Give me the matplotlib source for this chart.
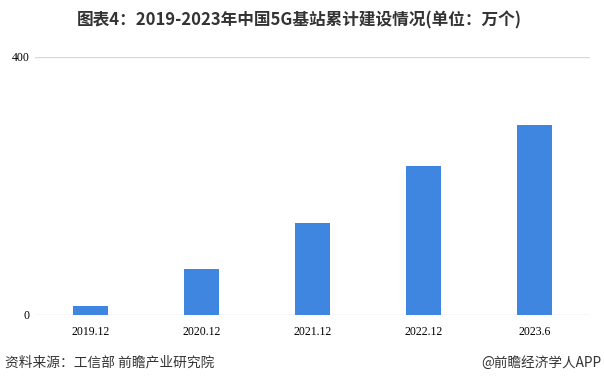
import matplotlib.pyplot as plt

plt.rcParams['font.family'] = ['Noto Sans CJK SC', 'DejaVu Sans']

periods = ['2019.12', '2020.12', '2021.12', '2022.12', '2023.6']
stations = [13, 71.8, 142.5, 231.2, 293.7]
y_ticks = [0, 400]

fig = plt.figure(figsize=(6.04, 3.84), dpi=100)
ax = fig.add_axes([0.058, 0.18, 0.919, 0.672])

x = range(len(periods))
ax.bar(x, stations, width=0.31, color='#3f86e0', zorder=3)

ax.set_xlim(-0.5, len(periods) - 0.5)
ax.set_ylim(0, 400)
ax.set_yticks(y_ticks)
ax.set_yticklabels([str(v) for v in y_ticks], family='Liberation Serif', fontsize=8.5)
ax.set_xticks(list(x))
ax.set_xticklabels(periods, family='Liberation Serif', fontsize=8.5)
ax.tick_params(length=0)
ax.tick_params(axis='x', pad=8)
ax.tick_params(axis='y', pad=4)
for v in y_ticks:
    ax.axhline(v, color='#d9d9d9', lw=1, zorder=1)
for s in ['top', 'right', 'left', 'bottom']:
    ax.spines[s].set_visible(False)

fig.text(0.495, 0.948, '图表4：2019-2023年中国5G基站累计建设情况(单位：万个)',
         ha='center', va='center', fontsize=12, fontweight='bold', color='#333333')
fig.text(0.008, 0.055, '资料来源：工信部 前瞻产业研究院', ha='left', va='center',
         fontsize=9.9, color='#333333')
fig.text(0.995, 0.055, '@前瞻经济学人APP', ha='right', va='center',
         fontsize=9.8, color='#333333')

fig.savefig('out.png', dpi=100)
